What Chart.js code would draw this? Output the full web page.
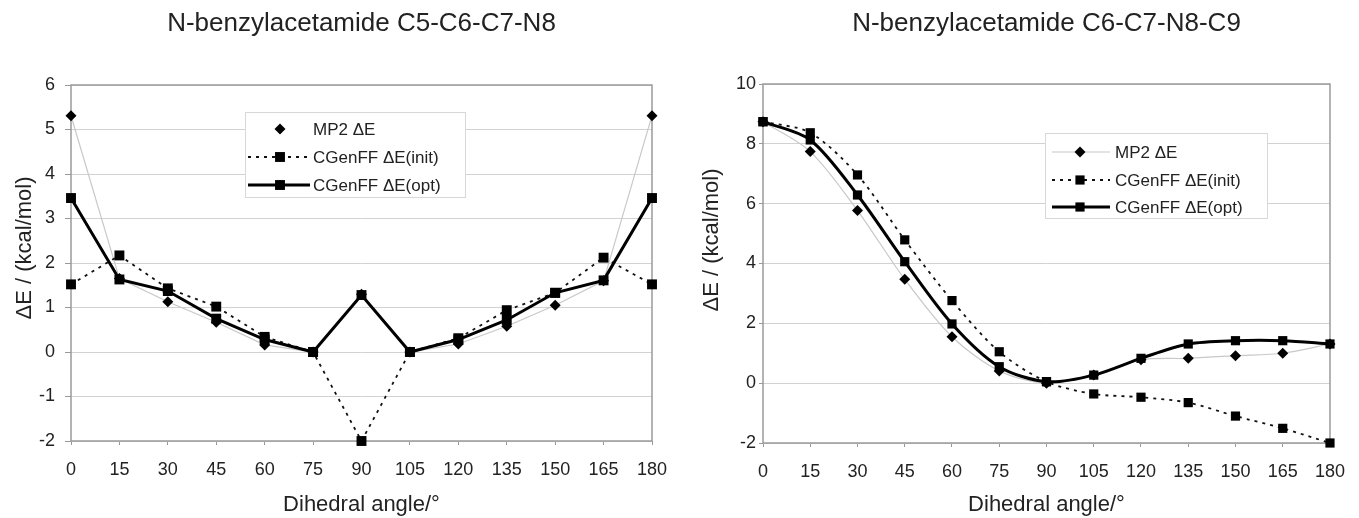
<!DOCTYPE html>
<html><head><meta charset="utf-8">
<script src="https://cdn.jsdelivr.net/npm/chart.js@4.4.1/dist/chart.umd.min.js"></script>
<style>
html,body{margin:0;padding:0;background:#fff;}
#wrap{position:relative;width:1359px;height:518px;overflow:hidden;background:#fff;}
.c{position:absolute;top:0;height:518px;}
#c1{left:0;width:690px;}
#c2{left:690px;width:669px;}
</style></head><body>
<div id="wrap"><div class="c" id="c1"><canvas id="left"></canvas></div><div class="c" id="c2"><canvas id="right"></canvas></div></div>
<script>
// ---- data ----
const angles = [0, 15, 30, 45, 60, 75, 90, 105, 120, 135, 150, 165, 180];
const seriesNames = ['MP2 \u0394E', 'CGenFF \u0394E(init)', 'CGenFF \u0394E(opt)'];
const leftTitle = 'N-benzylacetamide C5-C6-C7-N8';
const rightTitle = 'N-benzylacetamide C6-C7-N8-C9';
const xTitle = 'Dihedral angle/\u00b0';
const yTitle = '\u0394E / (kcal/mol)';
const leftMP2  = [5.31, 1.65, 1.13, 0.67, 0.16, 0, 1.30, 0, 0.18, 0.58, 1.05, 1.60, 5.31];
const leftInit = [1.52, 2.17, 1.43, 1.02, 0.34, 0, -2.00, 0, 0.31, 0.94, 1.33, 2.12, 1.52];
const leftOpt  = [3.46, 1.63, 1.37, 0.75, 0.28, 0, 1.28, 0, 0.28, 0.72, 1.33, 1.61, 3.46];
const rightMP2  = [8.74, 7.74, 5.77, 3.47, 1.55, 0.41, 0.00, 0.27, 0.78, 0.83, 0.92, 1.00, 1.31];
const rightInit = [8.74, 8.37, 6.96, 4.79, 2.76, 1.05, 0.05, -0.36, -0.47, -0.65, -1.10, -1.51, -2.00];
const rightOpt  = [8.74, 8.13, 6.29, 4.06, 1.98, 0.55, 0.05, 0.27, 0.83, 1.31, 1.42, 1.42, 1.31];

const FONT = "'Liberation Sans', Arial, Helvetica, sans-serif";
const TXT = '#222';
const pts = arr => arr.map((v, i) => ({x: angles[i], y: v}));

function datasets(mp2, init, opt, tension, sq) {
  return [
    {label: seriesNames[0], data: pts(mp2), borderColor: '#c8c8c8', borderWidth: 1.2,
     pointStyle: 'rectRot', pointRadius: 5.5, pointBackgroundColor: '#000', pointBorderColor: '#000',
     pointBorderWidth: 0, tension: tension, order: 2, clip: false},
    {label: seriesNames[1], data: pts(init), borderColor: '#111', borderWidth: 1.8, borderDash: [3, 5],
     pointStyle: 'rect', pointRadius: sq, pointBackgroundColor: '#000', pointBorderColor: '#000',
     pointBorderWidth: 0, tension: tension, order: 1, clip: false},
    {label: seriesNames[2], data: pts(opt), borderColor: '#000', borderWidth: 3,
     pointStyle: 'rect', pointRadius: sq, pointBackgroundColor: '#000', pointBorderColor: '#000',
     pointBorderWidth: 0, tension: tension, order: 0, clip: false}
  ];
}

const framePlugin = {
  id: 'frame',
  beforeDatasetsDraw(chart) {
    const {ctx, chartArea: a} = chart;
    ctx.save();
    ctx.strokeStyle = '#9a9a9a';
    ctx.lineWidth = 1.5;
    ctx.strokeRect(a.left, a.top, a.right - a.left, a.bottom - a.top);
    ctx.restore();
  },
  afterDraw(chart) {
    const o = chart.options.plugins.frame || {};
    const ctx = chart.ctx;
    ctx.save();
    ctx.fillStyle = TXT;
    ctx.font = '22px ' + FONT;
    ctx.textAlign = 'center';
    ctx.textBaseline = 'middle';
    ctx.translate(o.yTitleX, o.yTitleY);
    ctx.rotate(-Math.PI / 2);
    ctx.fillText(o.yTitleText, 0, 0);
    ctx.restore();
  },
  afterDatasetsDraw(chart) {
    const o = chart.options.plugins.frame || {};
    const L = o.legend;
    if (!L) return;
    const ctx = chart.ctx;
    ctx.save();
    ctx.fillStyle = '#fff';
    ctx.fillRect(L.box[0], L.box[1], L.box[2], L.box[3]);
    ctx.strokeStyle = '#d8d8d8';
    ctx.lineWidth = 1;
    ctx.strokeRect(L.box[0] + 0.5, L.box[1] + 0.5, L.box[2], L.box[3]);
    chart.data.datasets.forEach((ds, i) => {
      const y = L.rows[i];
      if (i > 0 || L.mp2Line) {
        ctx.save();
        ctx.strokeStyle = ds.borderColor;
        ctx.lineWidth = ds.borderWidth;
        ctx.setLineDash(ds.borderDash || []);
        ctx.beginPath();
        ctx.moveTo(L.line[0], y);
        ctx.lineTo(L.line[1], y);
        ctx.stroke();
        ctx.restore();
      }
      ctx.fillStyle = '#000';
      ctx.beginPath();
      const r = ds.pointRadius, m = L.mark;
      if (ds.pointStyle === 'rectRot') {
        ctx.moveTo(m, y - r); ctx.lineTo(m + r, y); ctx.lineTo(m, y + r); ctx.lineTo(m - r, y);
        ctx.closePath();
      } else {
        const s = r * Math.SQRT1_2;
        ctx.rect(m - s, y - s, 2 * s, 2 * s);
      }
      ctx.fill();
      ctx.fillStyle = TXT;
      ctx.font = '17px ' + FONT;
      ctx.textAlign = 'left';
      ctx.textBaseline = 'middle';
      ctx.fillText(ds.label, L.text, y + 1);
    });
    ctx.restore();
  }
};

function makeChart(id, title, ds, yMin, yMax, yStep, yw, xh, padRight, titleBottom, yTickLen, yTickPad, frame) {
  return new Chart(document.getElementById(id), {
    type: 'line',
    data: {datasets: ds},
    plugins: [framePlugin],
    options: {
      responsive: true, maintainAspectRatio: false, animation: false,
      layout: {padding: {left: 0, right: padRight, top: 0, bottom: 0}},
      plugins: {
        legend: {display: false},
        tooltip: {enabled: false},
        title: {display: true, text: title, fullSize: false, color: TXT,
                font: {family: FONT, size: 26, weight: 'normal', lineHeight: 1.2},
                padding: {top: 8, bottom: titleBottom}},
        frame: frame
      },
      scales: {
        x: {type: 'linear', min: 0, max: 180,
            afterFit(s) { s.height = xh; },
            ticks: {stepSize: 15, color: TXT, padding: 14, font: {family: FONT, size: 18}},
            grid: {drawOnChartArea: false, drawTicks: true, tickLength: 4, tickColor: '#999'},
            border: {display: false},
            title: {display: true, text: xTitle, color: TXT, padding: {top: 0, bottom: 0},
                    font: {family: FONT, size: 22, lineHeight: 1.2}}},
        y: {type: 'linear', min: yMin, max: yMax,
            afterFit(s) { s.width = yw; },
            ticks: {stepSize: yStep, color: TXT, padding: yTickPad, font: {family: FONT, size: 18}},
            grid: {color: '#d2d2d2', lineWidth: 1, drawTicks: true, tickLength: yTickLen, tickColor: '#999'},
            border: {display: false},
            title: {display: false, text: yTitle}}
      }
    }
  });
}

makeChart('left', leftTitle, datasets(leftMP2, leftInit, leftOpt, 0, 7), -2, 6, 1,
  71, 77, 38, 45.8, 6, 10,
  {yTitleX: 25, yTitleY: 248, yTitleText: yTitle,
   legend: {box: [245, 112, 220, 85], rows: [129, 157, 185], mark: 280, line: [248, 310], text: 313, mp2Line: false}});

makeChart('right', rightTitle, datasets(rightMP2, rightInit, rightOpt, 0.3, 6.5), -2, 10, 2,
  73, 75, 18, 44.8, 4, 3,
  {yTitleX: 22, yTitleY: 240, yTitleText: yTitle,
   legend: {box: [355, 133, 222, 85], rows: [152, 180, 207], mark: 390, line: [362, 420], text: 425, mp2Line: true}});
</script>
</body></html>
